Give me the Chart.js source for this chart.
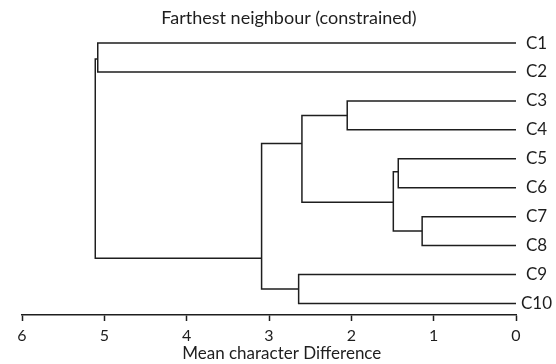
<!DOCTYPE html>
<html>
<head>
<meta charset="utf-8">
<script src="https://cdn.jsdelivr.net/npm/chart.js@4"></script>
<style>
  html, body { margin: 0; padding: 0; background: #fff; }
</style>
</head>
<body>
<canvas id="plot" width="556" height="364"></canvas>
<script>
// leaves, top to bottom
const leafLabels = ['C1', 'C2', 'C3', 'C4', 'C5', 'C6', 'C7', 'C8', 'C9', 'C10'];

// merges (n0..n8): children are leaf names or earlier merges
const mergeLeft    = ['C1', 'C3', 'C5', 'C7', 'n2', 'n1', 'C9',  'n5', 'n0'];
const mergeRight   = ['C2', 'C4', 'C6', 'C8', 'n3', 'n4', 'C10', 'n6', 'n7'];
const mergeHeights = [5.08, 2.05, 1.43, 1.14, 1.49, 2.60, 2.64, 3.09, 5.11];
// where the branch of each merge joins its parent (in leaf rows)
const mergeJoinRow = [0.55, 2.5, 4.45, 6.5, 5.5, 3.47, 8.5, 7.44, null];

const xTicks = [0, 1, 2, 3, 4, 5, 6];

const ink = '#1e1e1e';

function nodePos(ref) {
    if (ref[0] === 'C') {
        return { x: 0, y: leafLabels.indexOf(ref) };
    }
    const i = parseInt(ref.slice(1));
    return { x: mergeHeights[i], y: mergeJoinRow[i] };
}

// one bracket per merge
const datasets = mergeHeights.map((h, i) => {
    const a = nodePos(mergeLeft[i]);
    const b = nodePos(mergeRight[i]);
    return {
        label: 'n' + i,
        data: [a, { x: h, y: a.y }, { x: h, y: b.y }, b],
        showLine: true,
        borderColor: ink,
        borderWidth: 1.5,
        pointRadius: 0,
        fill: false,
    };
});

const ctx = document.getElementById('plot').getContext('2d');
new Chart(ctx, {
    type: 'scatter',
    data: { datasets: datasets },
    options: {
        responsive: false,
        animation: false,
        layout: { padding: { left: 22, top: 0, right: 0, bottom: 0 } },
        plugins: {
            legend: { display: false },
            tooltip: { enabled: false },
            title: {
                display: true,
                text: 'Farthest neighbour (constrained)',
                color: ink,
                font: { family: 'Lato', size: 18, weight: 'normal' },
                padding: { top: 7, bottom: 0 },
            },
        },
        scales: {
            x: {
                type: 'linear',
                min: 0,
                max: 6,
                reverse: true,
                afterBuildTicks: s => { s.ticks = xTicks.map(v => ({ value: v })); },
                afterFit: s => { s.height = 49; },
                border: { display: true, color: ink, width: 1.5 },
                grid: { display: true, drawOnChartArea: false, tickLength: 6, tickColor: ink, tickWidth: 1.5 },
                ticks: { color: ink, font: { family: 'Lato', size: 16 }, padding: 5, maxRotation: 0 },
                title: {
                    display: true,
                    // en spaces nudge the centred title right, as in the original
                    text: '\u2002\u2002\u2002Mean character Difference',
                    color: ink,
                    font: { family: 'Lato', size: 17 },
                    padding: 0,
                },
            },
            y: {
                type: 'linear',
                position: 'right',
                min: -0.5,
                max: 9.4,
                reverse: true,
                afterBuildTicks: s => { s.ticks = leafLabels.map((_, i) => ({ value: i })); },
                afterFit: s => { s.width = 40; },
                border: { display: false },
                grid: { display: false, tickLength: 0 },
                ticks: {
                    color: ink,
                    font: { family: 'Lato', size: 17 },
                    padding: 5,
                    crossAlign: 'center',
                    callback: v => leafLabels[v],
                },
            },
        },
    },
});
</script>
</body>
</html>
